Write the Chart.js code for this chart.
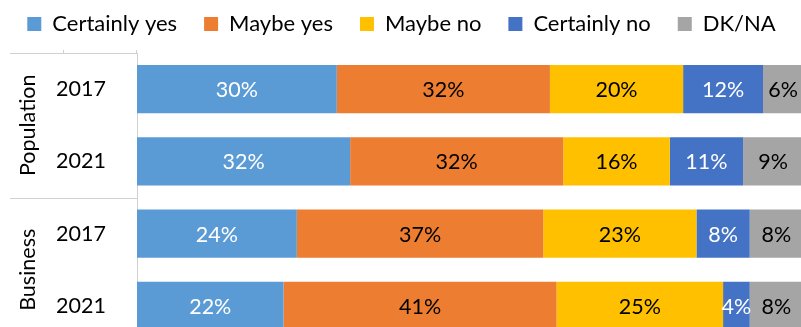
<!DOCTYPE html>
<html>
<head>
<meta charset="utf-8">
<script src="https://cdn.jsdelivr.net/npm/chart.js@4/dist/chart.umd.min.js"></script>
<style>
    html, body { margin: 0; padding: 0; overflow: hidden; background: #fff; }
    canvas { display: block; }
</style>
</head>
<body>
<canvas class="survey" width="803" height="345"></canvas>
<script>
const years = ["2017", "2021", "2017", "2021"]
const groups = ["Population", "Business"]
const certainlyYes = [30, 32, 24, 22]
const maybeYes = [32, 32, 37, 41]
const maybeNo = [20, 16, 23, 25]
const certainlyNo = [12, 11, 8, 4]
const dkna = [6, 9, 8, 8]

const FONT = "Lato, 'Open Sans', sans-serif"
const SIZE = 21.5
const lineGrey = "#d0d0d0"

// value labels in the middle of every segment
const segmentLabels = {
    id: "segmentLabels",
    afterDatasetsDraw(chart) {
        const ctx = chart.ctx
        ctx.save()
        ctx.font = SIZE + "px " + FONT
        ctx.textAlign = "center"
        ctx.textBaseline = "middle"
        chart.data.datasets.forEach((ds, i) => {
            const meta = chart.getDatasetMeta(i)
            meta.data.forEach((bar, j) => {
                ctx.fillStyle = ds.labelColor
                ctx.fillText(ds.data[j] + "%", (bar.x + bar.base) / 2, bar.y + 1)
            })
        })
        ctx.restore()
    }
}

// group names + separators on the left of the y axis
const groupAxis = {
    id: "groupAxis",
    afterDraw(chart) {
        const ctx = chart.ctx
        const y = chart.scales.y
        const left = chart.chartArea.left
        const top = chart.chartArea.top
        ctx.save()
        ctx.strokeStyle = lineGrey
        ctx.lineWidth = 1
        ctx.beginPath()
        ctx.moveTo(10, top + 0.5)
        ctx.lineTo(left, top + 0.5)
        ctx.moveTo(63.5, top - 3)
        ctx.lineTo(63.5, top)
        ctx.moveTo(left - 0.5, top - 3)
        ctx.lineTo(left - 0.5, top)
        const mid = (y.getPixelForValue(1) + y.getPixelForValue(2)) / 2
        ctx.moveTo(10, Math.round(mid) + 0.5)
        ctx.lineTo(left, Math.round(mid) + 0.5)
        ctx.stroke()

        ctx.fillStyle = "#000"
        ctx.font = SIZE + "px " + FONT
        ctx.textAlign = "center"
        ctx.textBaseline = "middle"
        groups.forEach((g, k) => {
            const cy = (y.getPixelForValue(k * 2) + y.getPixelForValue(k * 2 + 1)) / 2
            ctx.save()
            ctx.translate(28, cy)
            ctx.rotate(-Math.PI / 2)
            ctx.fillText(g, 0, 0)
            ctx.restore()
        })
        ctx.restore()
    }
}

const series = [
    { label: "Certainly yes", data: certainlyYes, backgroundColor: "#5B9BD5", labelColor: "#fff" },
    { label: "Maybe yes", data: maybeYes, backgroundColor: "#ED7D31", labelColor: "#000" },
    { label: "Maybe no", data: maybeNo, backgroundColor: "#FFC000", labelColor: "#000" },
    { label: "Certainly no", data: certainlyNo, backgroundColor: "#4472C4", labelColor: "#fff" },
    { label: "DK/NA", data: dkna, backgroundColor: "#A5A5A5", labelColor: "#000" }
]

const survey = new Chart(document.querySelector(".survey"), {
    type: "bar",
    data: {
        labels: years,
        datasets: series.map(s => ({ ...s, borderWidth: 0, barPercentage: 1, categoryPercentage: 0.667 }))
    },
    options: {
        indexAxis: "y",
        responsive: false,
        animation: false,
        layout: { padding: { top: -14, bottom: 3, left: 0, right: 0 } },
        scales: {
            x: {
                stacked: true, min: 0, max: 100, position: "top",
                ticks: { display: false },
                grid: { display: false, drawTicks: false },
                border: { display: false },
                // small gap between legend and bars
                afterFit(scale) { scale.height = 8 }
            },
            y: {
                stacked: true,
                grid: { display: false },
                border: { display: true, color: lineGrey },
                ticks: { color: "#000", font: { family: FONT, size: SIZE }, padding: 23 },
                afterFit(scale) {
                    scale.width = 137
                    scale.paddingTop = 0
                    scale.paddingBottom = 0
                }
            }
        },
        plugins: {
            tooltip: { enabled: false },
            legend: {
                position: "top",
                labels: {
                    color: "#000",
                    font: { family: FONT, size: 22 },
                    boxWidth: 14,
                    boxHeight: 14,
                    padding: 27
                }
            }
        }
    },
    plugins: [segmentLabels, groupAxis]
})
</script>
</body>
</html>
